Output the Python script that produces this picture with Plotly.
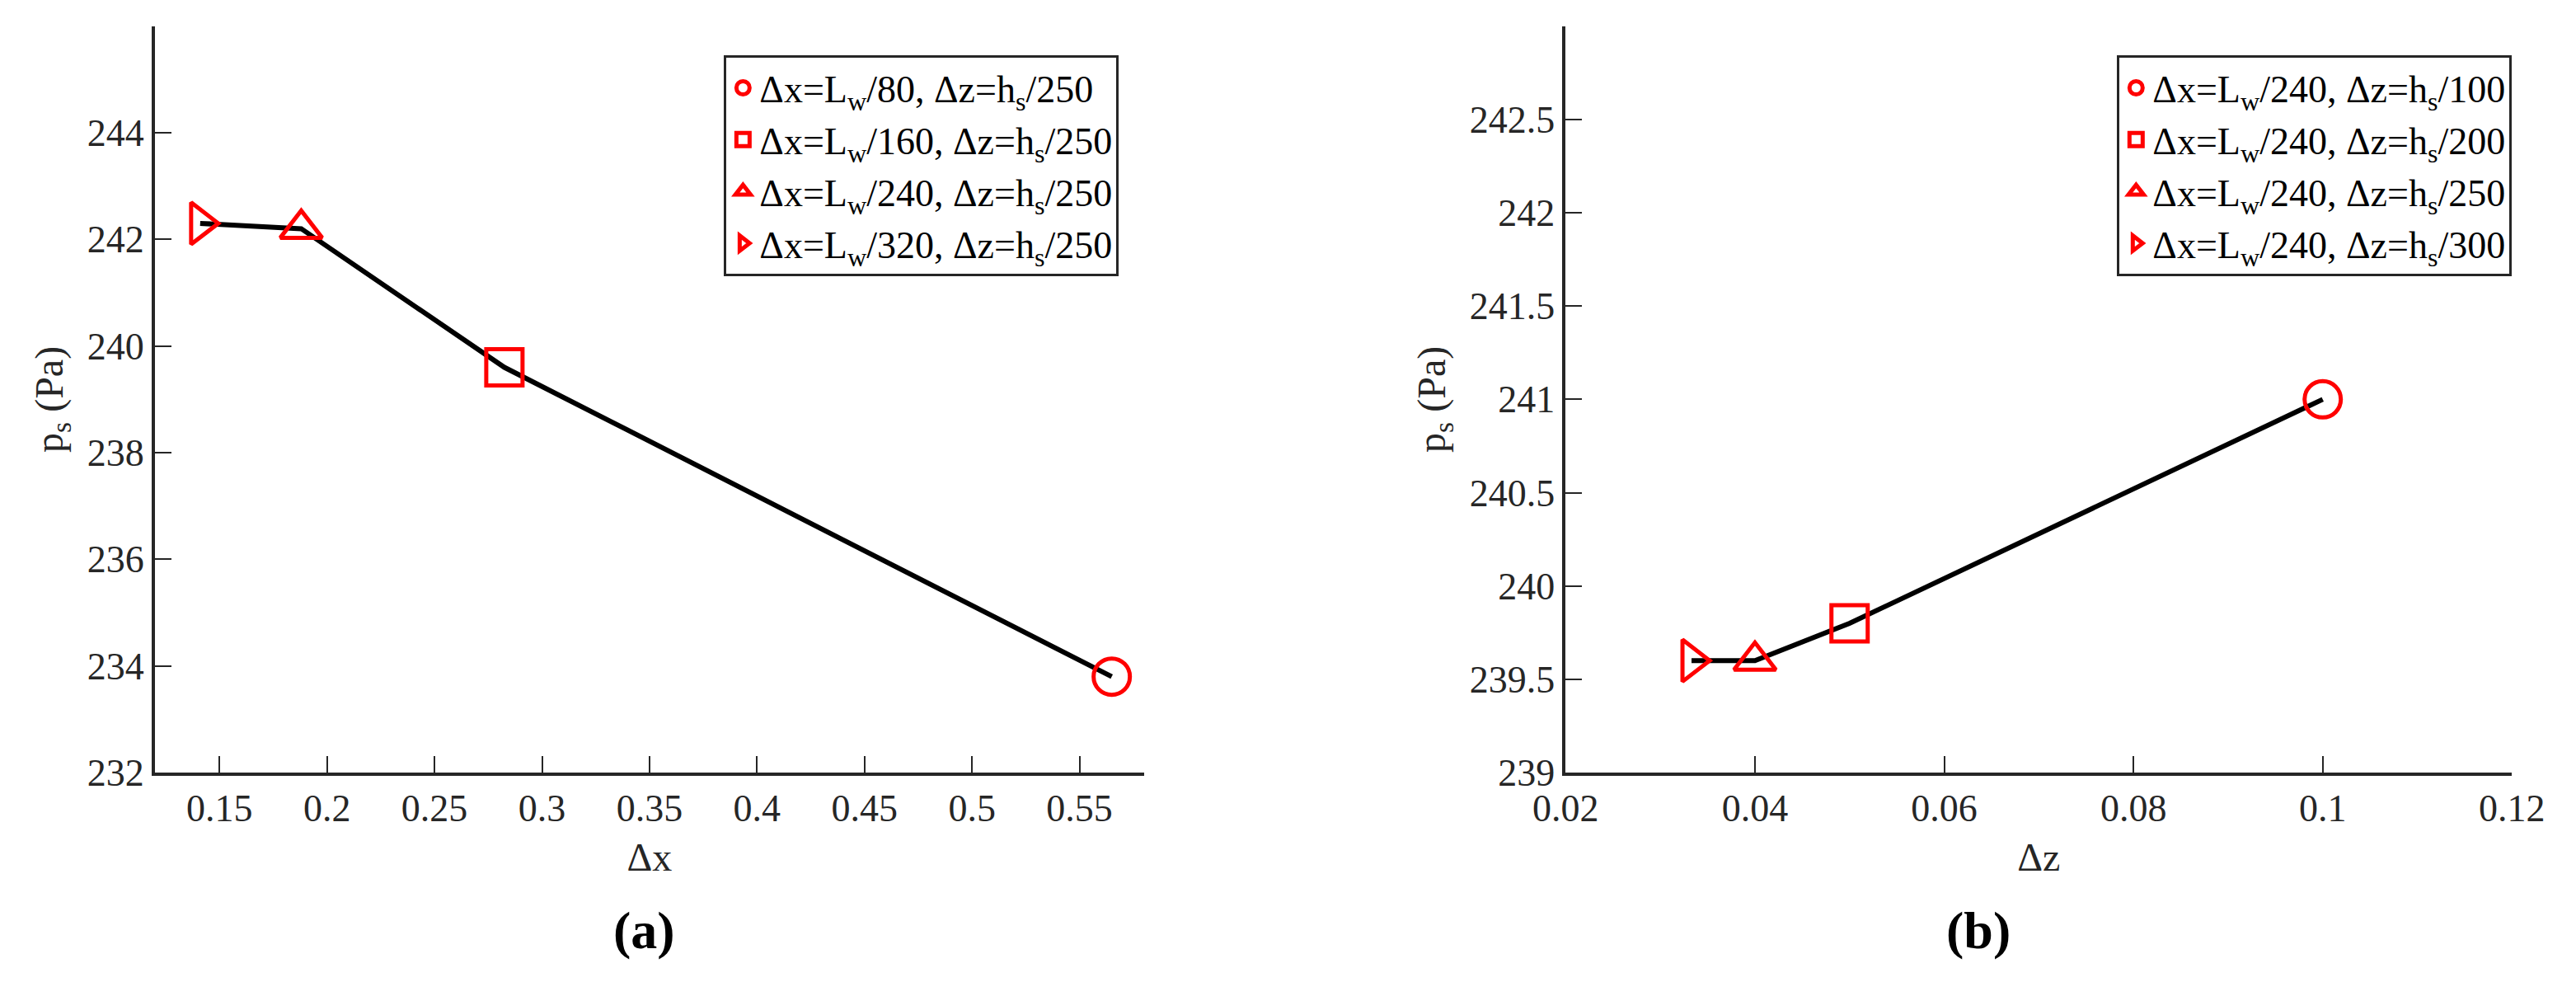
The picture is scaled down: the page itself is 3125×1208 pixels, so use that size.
import plotly.graph_objects as go

dx = [0.565, 0.2825, 0.188, 0.141]
ps_a = [233.8, 239.6, 242.2, 242.3]
labels_a = ["Δx=L<sub>w</sub>/80, Δz=h<sub>s</sub>/250", "Δx=L<sub>w</sub>/160, Δz=h<sub>s</sub>/250",
            "Δx=L<sub>w</sub>/240, Δz=h<sub>s</sub>/250", "Δx=L<sub>w</sub>/320, Δz=h<sub>s</sub>/250"]
dz = [0.1, 0.05, 0.04, 0.0333]
ps_b = [241.0, 239.8, 239.6, 239.6]
labels_b = ["Δx=L<sub>w</sub>/240, Δz=h<sub>s</sub>/100", "Δx=L<sub>w</sub>/240, Δz=h<sub>s</sub>/200",
            "Δx=L<sub>w</sub>/240, Δz=h<sub>s</sub>/250", "Δx=L<sub>w</sub>/240, Δz=h<sub>s</sub>/300"]
symbols = ["circle-open", "square-open", "triangle-up-open", "triangle-right-open"]
red = "rgb(255,0,0)"
FONT = "Liberation Serif"

fig = go.Figure()
fig.add_trace(go.Scatter(x=dx, y=ps_a, mode="lines", line=dict(color="black", width=6),
                         showlegend=False, xaxis="x", yaxis="y"))
fig.add_trace(go.Scatter(x=dz, y=ps_b, mode="lines", line=dict(color="black", width=6),
                         showlegend=False, xaxis="x2", yaxis="y2"))
for i in range(4):
    fig.add_trace(go.Scatter(x=[dx[i]], y=[ps_a[i]], mode="markers", name=labels_a[i],
                             marker=dict(symbol=symbols[i], size=44, color=red, line=dict(width=5, color=red)),
                             xaxis="x", yaxis="y", legend="legend"))
    fig.add_trace(go.Scatter(x=[dz[i]], y=[ps_b[i]], mode="markers", name=labels_b[i],
                             marker=dict(symbol=symbols[i], size=44, color=red, line=dict(width=5, color=red)),
                             xaxis="x2", yaxis="y2", legend="legend2"))

ax = dict(showline=True, linecolor="#262626", linewidth=4, ticks="inside", ticklen=20, tickwidth=2,
          tickcolor="#262626", showgrid=False, zeroline=False, mirror=False,
          tickfont=dict(family=FONT, size=46, color="#262626"))
ydom = [0.214, 0.98]
leg = dict(yanchor="top", xanchor="right", bgcolor="white", bordercolor="#262626", borderwidth=3,
           font=dict(family=FONT, size=46, color="black"), itemsizing="trace", tracegroupgap=14)
fig.update_layout(
    width=3125, height=1208, margin=dict(l=0, r=0, t=0, b=0),
    paper_bgcolor="white", plot_bgcolor="white",
    font=dict(family=FONT, size=46, color="#262626"),
    xaxis=dict(ax, domain=[0.046, 0.44], range=[0.12, 0.58], dtick=0.05, anchor="y",
               title=dict(text="Δx", font=dict(size=48), standoff=18)),
    yaxis=dict(ax, domain=ydom, range=[232, 246], dtick=2, anchor="x",
               title=dict(text="p<sub>s</sub> (Pa)", font=dict(size=48), standoff=15)),
    xaxis2=dict(ax, domain=[0.608, 0.985], range=[0.02, 0.12], dtick=0.02, anchor="y2",
                title=dict(text="Δz", font=dict(size=48), standoff=18)),
    yaxis2=dict(ax, domain=ydom, range=[239, 243], dtick=0.5, anchor="x2",
                title=dict(text="p<sub>s</sub> (Pa)", font=dict(size=48), standoff=15)),
    legend=dict(leg, x=0.43, y=0.95),
    legend2=dict(leg, x=0.985, y=0.95),
    annotations=[
        dict(text="<b>(a)</b>", x=0.228, y=0.02, xref="paper", yref="paper", showarrow=False,
             font=dict(family=FONT, size=64, color="black")),
        dict(text="<b>(b)</b>", x=0.786, y=0.02, xref="paper", yref="paper", showarrow=False,
             font=dict(family=FONT, size=64, color="black")),
    ],
)
fig.write_html("out.html")
